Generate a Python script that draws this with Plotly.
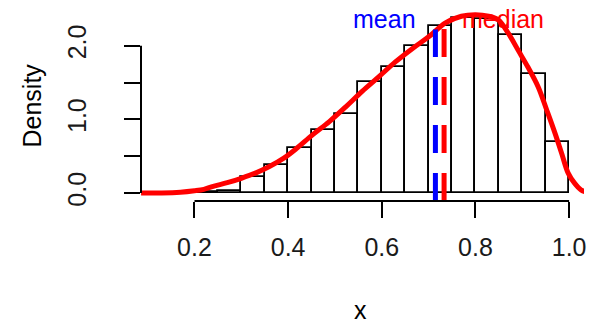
import plotly.graph_objects as go

# Histogram of x (density scale, bin width 0.05)
bin_left = [0.20, 0.25, 0.30, 0.35, 0.40, 0.45, 0.50, 0.55, 0.60, 0.65,
            0.70, 0.75, 0.80, 0.85, 0.90, 0.95]
bin_density = [0.015, 0.03, 0.22, 0.38, 0.615, 0.855, 1.07, 1.51, 1.715, 2.00,
               2.27, 2.38, 2.36, 2.14, 1.62, 0.69]
bin_width = 0.05

# Kernel density estimate of x
kde_x = [0.086, 0.13, 0.17, 0.20, 0.22, 0.24, 0.27, 0.30, 0.33, 0.36, 0.39,
         0.417, 0.452, 0.488, 0.523, 0.558, 0.594, 0.629, 0.665, 0.70, 0.736,
         0.77, 0.80, 0.828, 0.849, 0.870, 0.891, 0.912, 0.934, 0.952, 0.970,
         0.984, 0.998, 1.012, 1.026, 1.04]
kde_y = [0.0, 0.0, 0.01, 0.03, 0.05, 0.09, 0.14, 0.20, 0.27, 0.36, 0.47,
         0.60, 0.79, 0.97, 1.17, 1.38, 1.58, 1.78, 1.96, 2.12, 2.31,
         2.40, 2.42, 2.40, 2.35, 2.17, 1.94, 1.71, 1.44, 1.13, 0.81,
         0.54, 0.27, 0.13, 0.04, 0.01]

# Summary statistics
mean_x = 0.7145
median_x = 0.733
mean_top = 2.22
median_top = 2.30

x_ticks = [0.2, 0.4, 0.6, 0.8, 1.0]
x_tick_text = ["0.2", "0.4", "0.6", "0.8", "1.0"]
y_ticks = [0.0, 0.5, 1.0, 1.5, 2.0]
y_tick_text = ["0.0", "", "1.0", "", "2.0"]

W, H = 593, 324
L, R, T, B = 141, 586, 9, 201
x_range = [0.0858, 1.0318]
y_range = [-0.1086, 2.498]

FONT = "Liberation Sans, Arial, sans-serif"
FS = 25


def px_x(p):
    return (p - L) / (R - L)


def px_y(p):
    return (B - p) / (B - T)


fig = go.Figure()

fig.add_trace(go.Bar(
    x=[b + bin_width / 2 for b in bin_left], y=bin_density, width=bin_width,
    marker=dict(color="rgba(255,255,255,0)", line=dict(color="black", width=1.8)),
    hoverinfo="skip", showlegend=False,
))

fig.add_trace(go.Scatter(
    x=kde_x, y=kde_y, mode="lines", line=dict(color="#ff0000", width=5, shape="spline"),
    showlegend=False,
))

for xv, top, col in [(mean_x, mean_top, "#0000ff"), (median_x, median_top, "#ff0000")]:
    fig.add_trace(go.Scatter(
        x=[xv, xv], y=[y_range[0], top], mode="lines",
        line=dict(color=col, width=5, dash="28px,20px"), showlegend=False,
    ))

shapes = [
    dict(type="line", xref="x", yref="paper", x0=x_ticks[0], x1=x_ticks[-1], y0=0, y1=0,
         line=dict(color="black", width=2)),
    dict(type="line", xref="paper", yref="y", x0=0, x1=0, y0=y_ticks[0], y1=y_ticks[-1],
         line=dict(color="black", width=2)),
]

annotations = [
    dict(text="mean", x=px_x(419), y=px_y(19), xref="paper", yref="paper",
         xanchor="right", yanchor="middle", showarrow=False,
         font=dict(family=FONT, size=FS, color="#0000ff")),
    dict(text="median", x=px_x(461), y=px_y(19), xref="paper", yref="paper",
         xanchor="left", yanchor="middle", showarrow=False,
         font=dict(family=FONT, size=FS, color="#ff0000")),
    dict(text="x", x=px_x(361), y=px_y(310), xref="paper", yref="paper",
         xanchor="center", yanchor="middle", showarrow=False,
         font=dict(family=FONT, size=FS, color="black")),
    dict(text="Density", x=px_x(32), y=px_y(105), xref="paper", yref="paper",
         xanchor="center", yanchor="middle", showarrow=False, textangle=-90,
         font=dict(family=FONT, size=FS, color="black")),
]

fig.update_layout(
    width=W, height=H,
    margin=dict(l=L, r=W - R, t=T, b=H - B, pad=0),
    plot_bgcolor="white", paper_bgcolor="white",
    shapes=shapes, annotations=annotations,
    bargap=0, showlegend=False,
    xaxis=dict(range=x_range, tickvals=x_ticks, ticktext=x_tick_text,
               ticks="outside", ticklen=16, tickwidth=2, tickcolor="black",
               ticklabelstandoff=8,
               showgrid=False, zeroline=False, showline=False,
               tickfont=dict(family=FONT, size=FS, color="#1a1a1a")),
    yaxis=dict(range=y_range, tickvals=y_ticks, ticktext=y_tick_text,
               ticks="outside", ticklen=16, tickwidth=2, tickcolor="black",
               ticklabelstandoff=28,
               tickangle=-90, showgrid=False, zeroline=False, showline=False,
               tickfont=dict(family=FONT, size=FS, color="#1a1a1a")),
)

fig.write_html("out.html")
